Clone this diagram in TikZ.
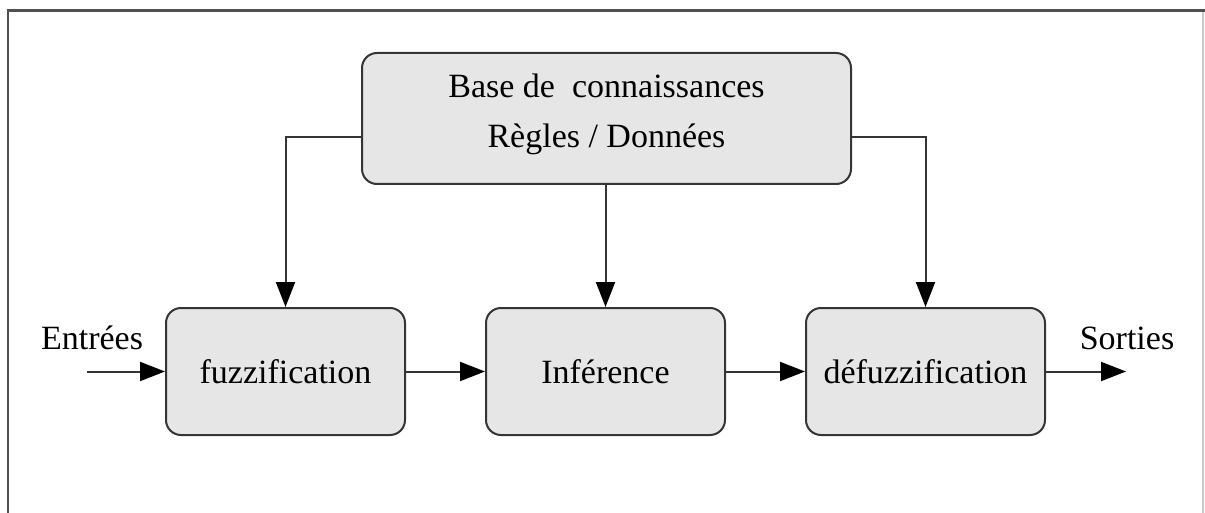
\documentclass[tikz,border=0pt]{standalone}
\usepackage{fontspec}
\setmainfont{Liberation Serif}
\usetikzlibrary{arrows.meta,calc}
\definecolor{boxfill}{HTML}{E6E6E6}
\definecolor{boxline}{HTML}{353535}
\definecolor{frameline}{HTML}{505050}
\definecolor{frameright}{HTML}{C8C8C8}
\tikzset{
  blockbox/.style={draw=boxline, line width=2pt, fill=boxfill, rounded corners=15pt,
    minimum width=239pt, minimum height=127pt, inner sep=0pt,
    font=\fontsize{34}{51}\selectfont, text=black},
  kbbox/.style={blockbox, minimum width=489pt, minimum height=131pt, align=center},
  conn/.style={draw=boxline, line width=2pt, -{Triangle[length=25pt,width=19pt,fill=black,color=black]}},
  iolabel/.style={font=\fontsize{34}{38}\selectfont, inner sep=0pt}
}
\begin{document}
\begin{tikzpicture}[x=1pt,y=-1pt]
\useasboundingbox (0,0) rectangle (1205,513);
% frame
\draw[frameright, line width=1.5pt] (1203,12) -- (1203,513);
\draw[frameline, line width=2pt] (7.5,10.5) -- (7.5,513);
\draw[frameline, line width=3pt] (6.5,10.5) -- (1205,10.5);
% nodes
\node[kbbox] (kb) at (606.5,118.5) {\raisebox{0pt}[0pt][0pt]{\begin{tabular}{@{}c@{}}Base de~ connaissances\\[-1pt]Règles / Données\end{tabular}}};
\node[blockbox] (fz) at (285.5,371.5) {fuzzification};
\node[blockbox] (inf) at (605.5,371.5) {Inférence};
\node[blockbox] (dfz) at (925.5,371.5) {défuzzification};
\coordinate (in) at (87,371.5);
\coordinate (out) at (1126,371.5);
\node[iolabel] (lin) at (92,338) {Entrées};
\node[iolabel] (lout) at (1127,338) {Sorties};
% connectors
\draw[conn] ([yshift=-18.5pt]kb.west) -| (fz.north);
\draw[conn] (kb.south -| inf.north) -- (inf.north);
\draw[conn] ([yshift=-18.5pt]kb.east) -| (dfz.north);
\draw[conn] (in) -- (fz.west);
\draw[conn] (fz.east) -- (inf.west);
\draw[conn] (inf.east) -- (dfz.west);
\draw[conn] (dfz.east) -- (out);
\end{tikzpicture}
\end{document}
